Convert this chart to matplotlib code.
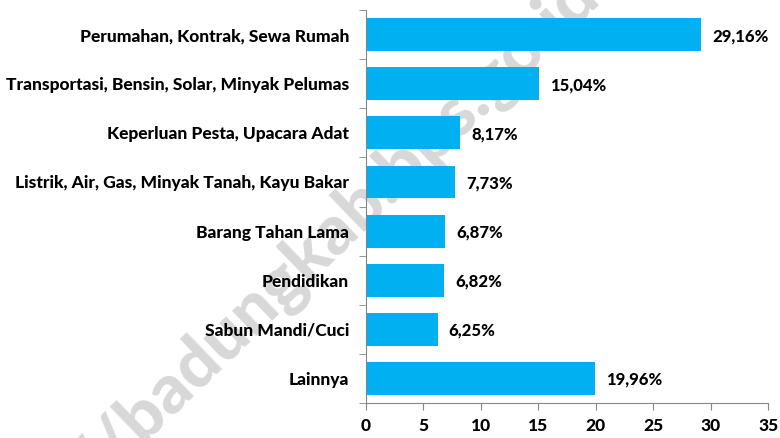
import numpy as np
import matplotlib.pyplot as plt
from matplotlib.ticker import FixedLocator

plt.rcParams['font.family'] = ['Lato', 'DejaVu Sans']

categories = ['Perumahan, Kontrak, Sewa Rumah',
              'Transportasi, Bensin, Solar, Minyak Pelumas',
              'Keperluan Pesta, Upacara Adat',
              'Listrik, Air, Gas, Minyak Tanah, Kayu Bakar',
              'Barang Tahan Lama',
              'Pendidikan',
              'Sabun Mandi/Cuci',
              'Lainnya']
values = [29.16, 15.04, 8.17, 7.73, 6.87, 6.82, 6.25, 19.96]
xticks = [0, 5, 10, 15, 20, 25, 30, 35]

fig = plt.figure(figsize=(7.8, 4.38), dpi=100)
ax = fig.add_axes([0.469, 0.08, 0.516, 0.897])
ax.patch.set_alpha(0)

# watermark behind the chart
fig.text(0.43, 0.47, '//badungkab.bps.go.id', fontsize=50, fontweight='black',
         color='#d8d8d8', rotation=44, ha='center', va='center', zorder=-1)

ypos = np.arange(len(categories))
ax.barh(ypos, values, height=0.67, color='#00B0F0', zorder=2)

for y, v in zip(ypos, values):
    ax.annotate(('%.2f' % v).replace('.', ',') + '%', (v, y),
                xytext=(8, -1), textcoords='offset points',
                ha='left', va='center', fontsize=12, fontweight='black')

ax.set_xlim(0, 35)
ax.set_ylim(len(categories) - 0.5, -0.5)
ax.set_xticks(xticks)
ax.set_xticklabels([str(t) for t in xticks], fontsize=12.5, fontweight='black')
ax.set_yticks(ypos)
ax.set_yticklabels(categories, fontsize=12.5, fontweight='black')
ax.yaxis.set_minor_locator(FixedLocator(np.arange(-0.5, len(categories), 1)))
ax.tick_params(axis='y', which='major', length=0, pad=12)
ax.tick_params(axis='y', which='minor', length=5, color='#868686', direction='out')
ax.tick_params(axis='x', length=5, color='#868686', direction='out', pad=6)

for s in ['top', 'right']:
    ax.spines[s].set_visible(False)
for s in ['left', 'bottom']:
    ax.spines[s].set_color('#868686')

fig.savefig('out.png', dpi=100)
